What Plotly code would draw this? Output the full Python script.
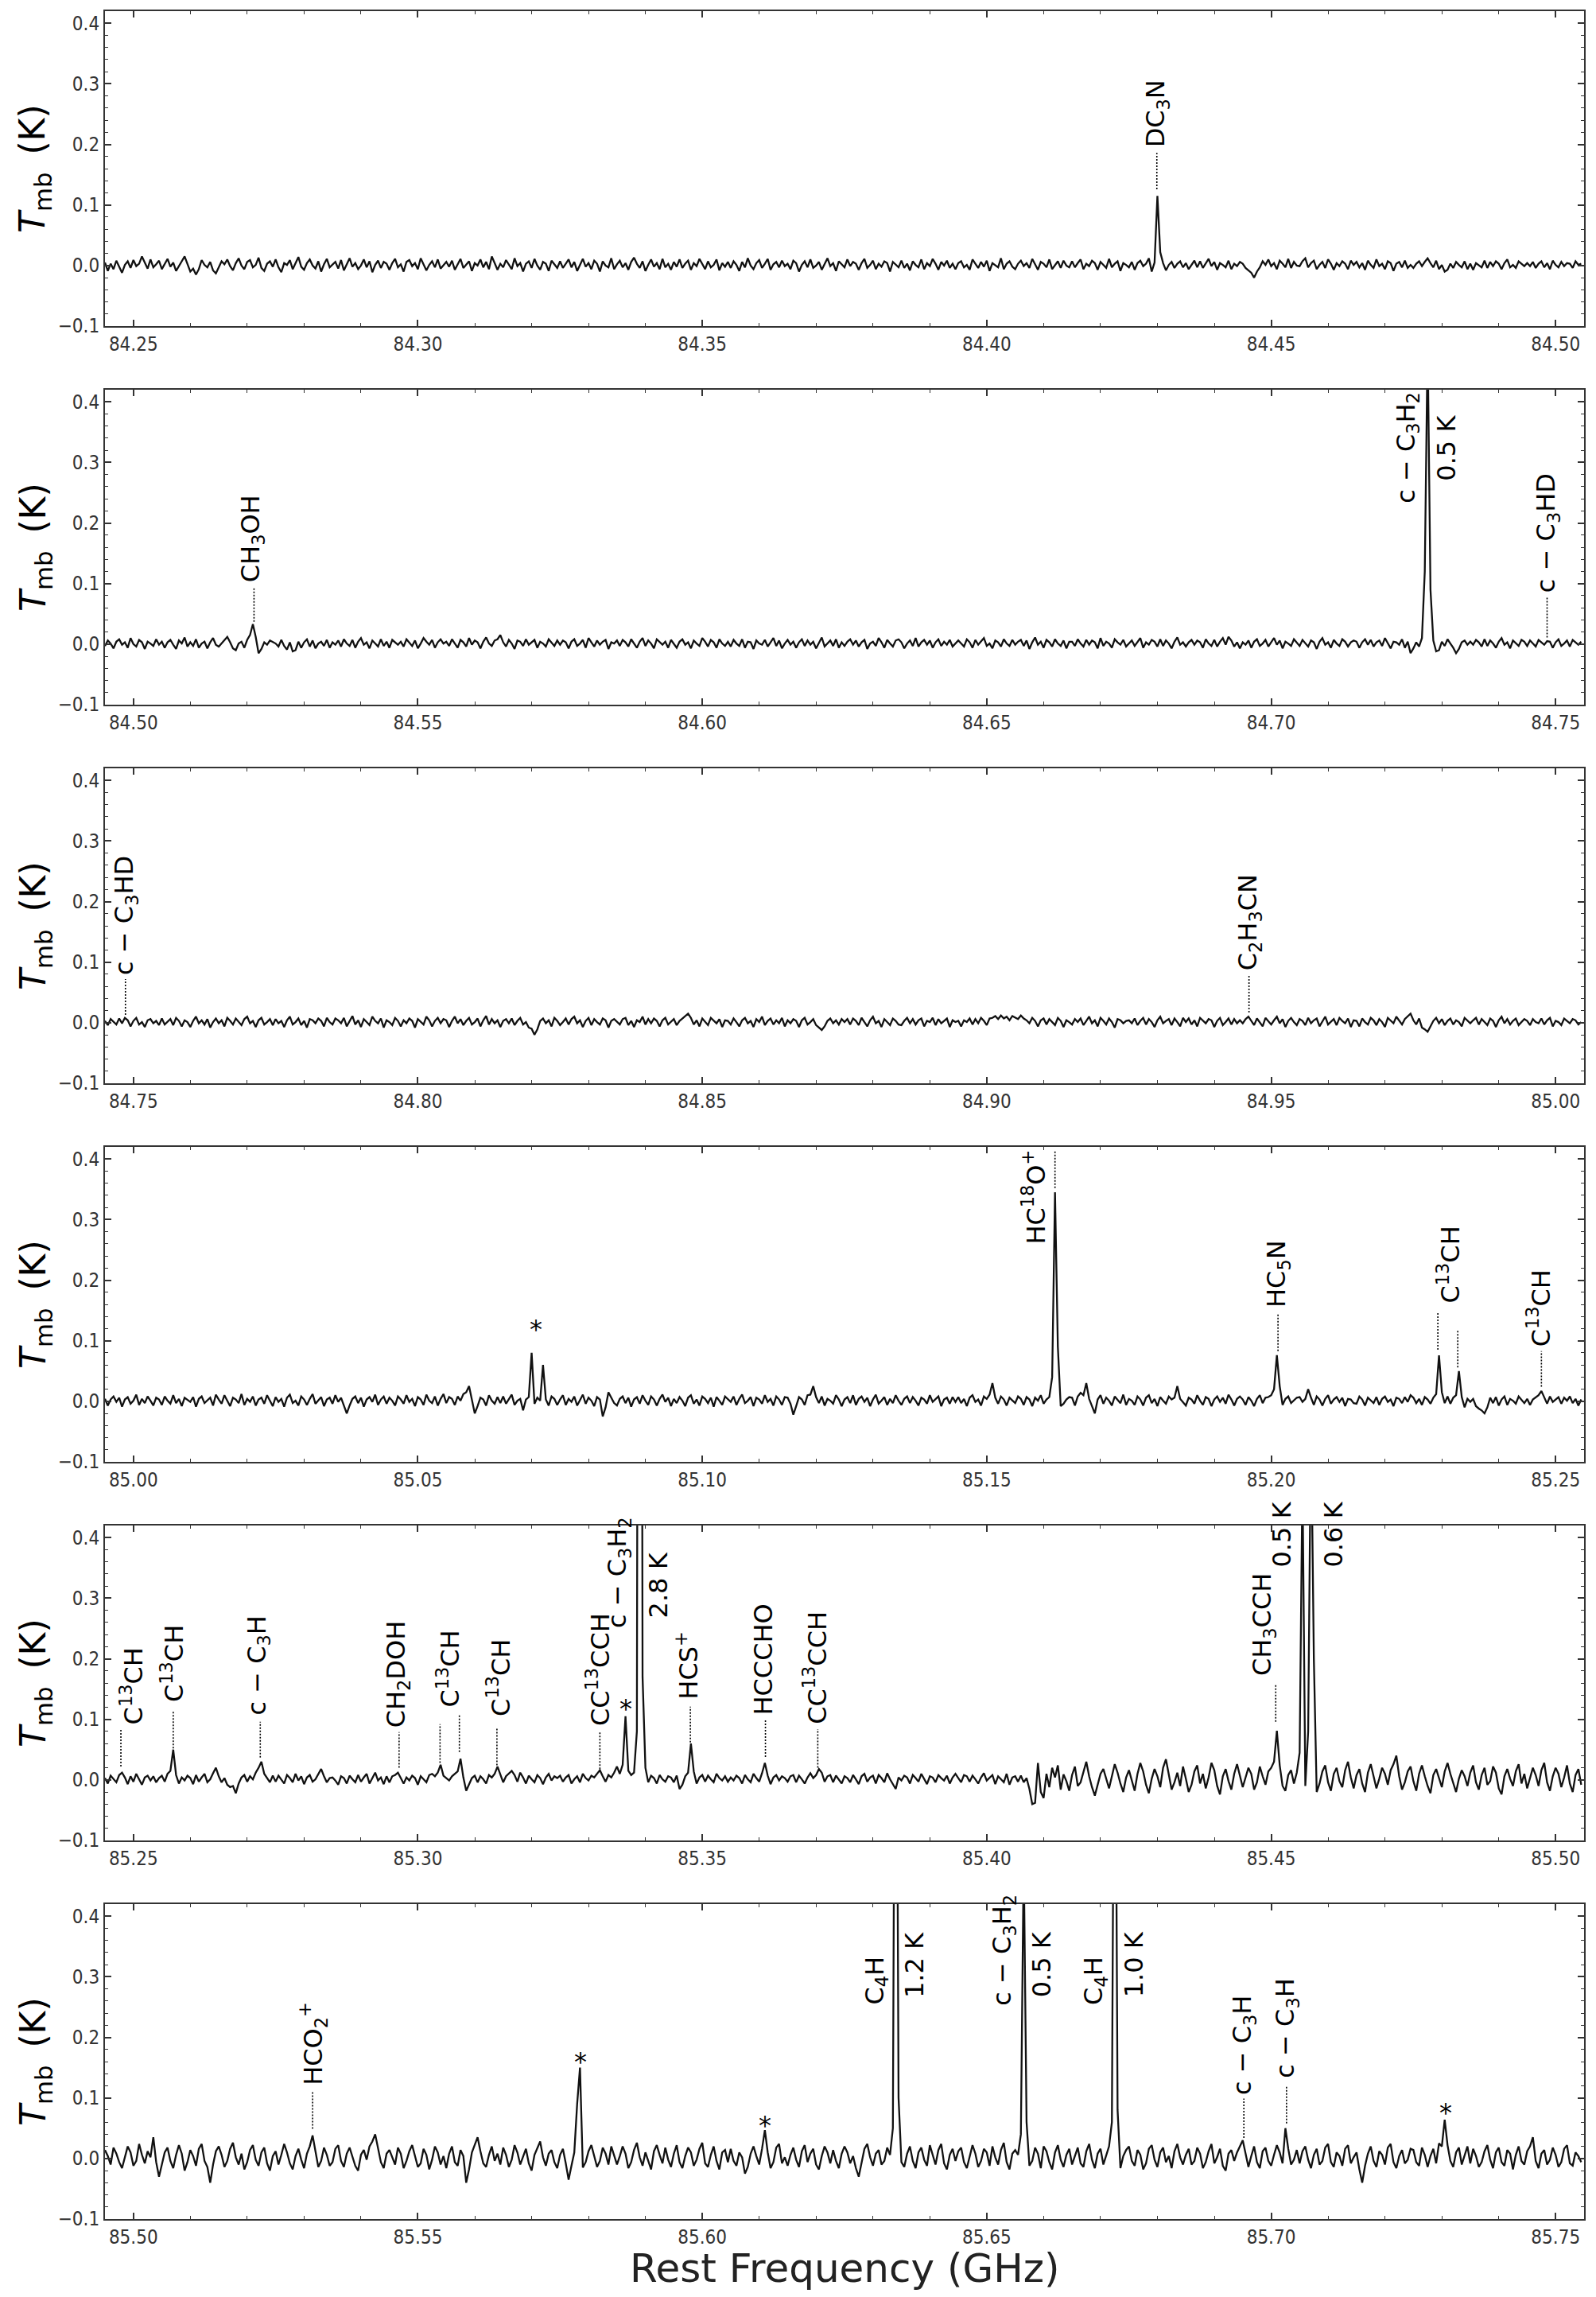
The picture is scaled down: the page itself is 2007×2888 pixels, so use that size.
import plotly.graph_objects as go

# ---------------- data ----------------
PANEL_START_GHZ = [84.245, 84.495, 84.745, 84.995, 85.245, 85.495]
PANEL_END_GHZ = [84.505, 84.755, 85.005, 85.255, 85.505, 85.755]
CHANNEL_GHZ = 0.0005
Y_RANGE_K = [-0.1, 0.42]
X_TICK_STEP = 0.05
Y_TICK_STEP = 0.1

# Tmb in mK, 20 channels (0.01 GHz) per row
tmb_p1_mK = [
    5,-9,3,-6,8,-2,-12,1,7,-4,9,-1,3,15,6,-5,10,-3,2,8,
    -6,3,11,-2,5,-9,0,7,15,3,-10,-5,-15,-6,9,1,-3,6,-8,-13,
    -4,7,2,10,-1,-8,4,12,0,-6,6,9,-3,1,13,-4,-9,3,7,-2,
    10,-3,-11,4,1,9,-6,3,14,-2,-7,4,10,0,-5,7,-10,2,11,-3,
    1,6,-5,9,-8,3,12,-2,4,-6,0,10,-3,7,-11,1,8,-4,6,3,
    -7,4,11,-3,2,-10,6,9,-1,4,-6,12,3,-8,1,7,-3,10,-5,0,
    6,-2,8,-7,3,11,-4,1,7,-9,4,0,10,-3,6,-6,15,4,-7,3,
    -3,9,1,-6,12,-1,4,-10,3,7,-4,11,0,-7,6,3,-9,8,2,-4,
    7,-4,3,10,-3,6,-9,1,11,-2,4,-6,8,3,-10,7,0,-3,12,-6,
    2,8,-3,4,-7,6,13,3,-4,7,-9,1,10,-2,4,-6,11,-3,3,-7,
    6,-2,10,-4,3,8,-7,4,-1,11,3,-6,7,-3,1,10,-8,4,-2,6,
    -4,7,1,-9,6,-3,12,0,-6,4,9,-4,3,11,-7,2,6,-3,8,-1,
    3,-6,8,4,-10,1,7,-3,10,-4,0,6,-7,3,12,-1,4,-9,7,2,
    -3,10,-1,6,3,-7,4,11,-4,1,8,-6,3,-2,7,4,-10,6,1,-3,
    8,-4,3,-8,7,1,-3,10,-6,4,-1,11,3,-7,6,0,8,-4,3,-6,
    4,7,-3,1,-7,10,3,-4,6,-2,8,-9,4,1,-3,12,-6,3,7,-2,
    -6,3,8,-1,4,-4,11,2,-7,6,3,-3,10,-6,1,7,-4,8,0,-3,
    7,-3,4,10,-6,3,-1,8,4,-7,6,1,-4,11,-3,3,7,-9,4,1,
    -3,6,-7,4,8,-1,3,12,-10,5,115,22,4,-8,1,6,-4,3,7,-3,
    4,-6,1,8,-3,7,-4,3,11,-1,6,-7,4,1,-3,8,-6,3,-1,6,
    3,-4,-8,-12,-20,-10,-3,7,1,10,-1,4,-6,8,3,-3,11,-4,6,0,
    -1,7,12,-3,4,8,-6,1,6,-4,10,3,-7,4,-1,7,3,-6,8,1,
    6,-3,4,-7,8,1,-4,10,-1,3,-6,7,4,-9,3,6,-3,8,-4,1,
    -4,3,7,-1,6,12,4,-3,8,-6,1,-10,-7,3,-4,6,1,-3,7,-6,
    3,-7,4,1,-3,8,-4,6,-1,7,3,-6,4,10,-3,1,-4,7,3,-1,
    4,-1,6,-4,3,7,-3,4,-6,8,1,-3,6,-1,4,3,-4,7,1,3,
]

tmb_p2_mK = [
    -3,6,1,-7,4,8,-1,3,-6,10,0,-4,7,3,-8,4,1,-3,8,-1,
    4,-6,3,7,-1,-8,6,1,11,-4,3,-3,8,-6,1,4,-7,3,10,-1,
    -4,1,6,12,3,-7,-10,1,4,-6,7,15,33,12,-15,-8,3,-1,6,4,
    1,-4,7,-3,-9,3,-12,-10,4,-6,3,8,-4,6,-7,1,4,-3,7,-6,
    3,-1,6,-4,8,1,-3,7,-6,4,10,-1,3,-7,6,1,-4,8,-3,4,
    -6,7,3,-1,4,-4,8,3,-3,6,-7,1,10,4,-1,7,-6,3,8,1,
    4,-3,8,1,-6,7,3,-4,10,-1,6,3,-7,4,11,1,-3,6,8,15,
    3,-4,7,1,-8,6,4,-3,8,-1,3,7,-6,4,1,-4,8,3,-3,6,
    -1,6,3,-7,4,8,-3,1,7,-6,10,3,-4,6,-1,4,7,-8,3,1,
    6,-3,7,3,-4,8,1,-6,4,10,-3,6,1,-7,8,3,-1,4,-6,7,
    1,-6,4,8,-1,3,-7,6,1,-3,10,4,-4,7,3,-6,8,1,-3,4,
    -4,7,1,-3,8,-6,4,3,-8,6,1,-1,7,-4,3,10,-3,6,-7,1,
    7,-1,4,-6,3,8,-3,6,-1,4,-7,3,11,-4,1,6,-3,8,-6,3,
    -3,4,8,-1,6,-4,3,7,-8,1,4,-3,10,3,-6,7,1,-4,6,8,
    3,-7,1,6,-3,10,-4,3,7,-1,6,-6,3,8,-3,4,-1,7,-4,1,
    6,1,-4,8,3,-6,7,-1,4,10,-3,1,-7,6,3,-4,8,1,-3,7,
    -1,4,7,-3,6,-8,3,11,-1,4,-6,7,3,-4,8,1,-3,6,-7,4,
    4,-3,8,1,-4,7,-1,6,3,-7,10,-3,4,1,-6,8,3,-1,7,-4,
    1,6,-3,4,10,-6,3,-1,7,4,-4,8,-3,6,1,-7,4,11,-1,3,
    -4,3,7,-1,6,3,-6,8,1,-3,7,-4,4,10,-1,12,6,-4,3,-7,
    3,-1,6,-6,4,8,-3,1,7,-4,3,10,-1,6,-7,4,1,-3,8,3,
    -3,7,1,-4,6,3,-8,4,10,-1,3,-6,7,1,-3,8,4,-4,3,6,
    4,-6,3,8,-1,7,-4,3,6,-3,10,1,-7,4,3,-1,8,-6,4,-15,
    -7,3,-4,10,120,500,90,6,-12,-10,4,-3,8,1,-6,-15,-8,3,6,-1,
    4,-1,7,3,-4,8,-3,6,1,-6,4,10,-1,3,-7,6,1,-3,7,4,
    -3,6,1,-4,7,3,-1,5,4,-6,3,8,-3,1,6,-4,7,3,-1,4,
]

tmb_p3_mK = [
    3,-4,6,1,-3,7,-1,8,4,-6,3,8,-3,1,-7,4,6,-1,3,-4,
    7,-3,1,6,-4,8,3,-6,4,1,-7,3,10,-1,4,-3,6,-8,1,7,
    -1,4,-6,8,3,-3,7,1,-4,6,10,-1,3,-7,4,8,-3,1,6,-4,
    6,-1,3,-7,4,10,-3,1,7,-4,3,-8,6,4,-1,7,3,-6,8,1,
    -3,7,4,-1,8,-6,3,11,-3,4,-7,6,1,-4,10,3,-1,7,-8,4,
    1,-4,8,3,-6,4,-1,7,3,-8,6,1,-3,10,4,-6,3,8,-1,6,
    4,-7,3,10,-1,6,-4,3,8,-3,1,7,-6,4,11,-3,6,-1,4,-7,
    3,6,-1,7,-4,3,8,-3,1,-8,-10,-20,-11,3,7,-1,4,-6,8,3,
    -4,1,7,-3,6,10,-1,4,-7,3,8,-4,6,1,-3,7,4,-8,3,6,
    1,-3,6,8,-4,3,-7,4,1,10,-3,6,-1,7,3,-6,4,8,-3,1,
    6,-4,3,7,11,15,8,-3,4,-6,7,1,-4,8,3,-1,6,-7,4,3,
    -3,7,1,-6,4,8,-1,3,-7,6,1,10,-4,3,7,-3,4,-1,8,-6,
    4,-1,6,3,-7,4,8,-3,1,6,-4,-8,-12,-6,3,7,-1,4,-3,6,
    1,6,-3,7,3,-4,8,1,-6,4,10,-1,3,-7,6,1,-4,7,3,-3,
    -4,3,8,-1,6,-3,4,7,-6,3,1,8,-4,6,-1,3,7,-7,4,1,
    3,-6,4,1,7,-3,6,-1,8,3,-4,7,8,11,6,12,7,10,4,11,
    8,6,12,7,4,-1,8,3,-6,4,7,-3,6,1,-4,8,3,-7,4,1,
    -3,6,1,7,-4,3,10,-1,4,-6,8,3,-3,7,1,-8,6,4,-1,3,
    4,-1,7,-4,3,8,-3,6,1,-7,4,10,-1,3,6,-4,7,1,-6,8,
    1,7,-3,4,-6,8,3,-1,6,4,-7,3,8,-4,1,7,-3,6,-1,4,
    -1,6,10,3,-4,7,1,-6,8,3,-3,4,10,-1,6,-7,3,8,1,-4,
    6,3,-4,8,-1,4,7,-6,3,10,-3,1,6,-4,8,3,-1,7,-7,4,
    3,-6,7,1,-3,8,4,-4,6,1,-7,8,3,-1,10,4,-3,6,11,15,
    4,-3,7,-8,-11,-15,-6,3,8,-1,6,-4,3,7,-3,4,1,-6,8,3,
    -1,4,8,-3,6,1,-4,7,3,-7,4,10,-1,6,-3,3,7,-4,1,6,
    3,-4,6,1,-1,7,-3,4,8,-6,3,1,-4,7,3,-1,6,4,-3,1,
]

tmb_p4_mK = [
    4,-7,3,8,-1,6,-9,3,7,-4,1,11,-6,4,-3,8,1,-7,6,3,
    -6,8,1,-4,10,-3,4,-8,6,3,-1,7,-9,4,8,-3,1,6,-7,11,
    3,-4,10,1,-8,6,3,-3,12,-6,4,-1,8,-7,3,6,-4,10,1,-8,
    7,-1,4,-9,6,11,-3,1,-7,8,3,-6,4,12,-4,1,7,-8,3,6,
    -4,10,-1,6,-8,-20,-7,4,8,-3,6,-9,3,7,-1,11,-6,3,8,-4,
    6,1,-7,8,3,-4,10,-1,4,-8,7,3,-6,11,1,-3,8,-7,4,12,
    -3,7,4,-6,8,1,12,15,25,4,-20,-8,6,3,-7,10,1,-4,7,-3,
    8,-4,3,11,-6,1,4,-15,3,7,80,-4,6,1,60,3,-7,8,4,-6,
    3,10,-6,4,-1,8,-7,3,11,-4,6,1,-8,7,3,-25,-10,15,6,-3,
    -7,4,8,-3,6,-9,3,7,-4,10,1,-6,8,3,-7,4,11,-1,6,-8,
    4,-3,7,1,-8,6,10,-4,3,-7,8,4,-3,6,-9,7,1,-6,8,3,
    -1,8,-6,4,11,-3,1,7,-8,6,3,-4,10,-1,4,-7,8,3,-6,7,
    6,-4,-22,-8,7,3,-6,10,11,25,7,-3,8,-7,4,1,-4,10,3,-8,
    3,7,-3,10,-6,4,8,-1,6,-8,3,11,-4,1,7,-6,4,-3,10,1,
    -6,4,8,-3,7,1,-7,6,3,-4,10,-1,4,8,-8,3,6,-4,7,-1,
    7,-3,4,-8,6,10,-1,3,-7,8,4,11,30,6,-4,8,3,-7,6,1,
    -3,8,4,-6,7,3,-8,6,1,10,-4,3,7,40,345,90,-8,-4,3,7,
    6,-7,8,14,10,30,4,-8,-20,3,10,-4,6,1,-7,8,3,-3,11,-6,
    4,1,-6,8,3,-7,6,10,-3,4,-8,7,1,-4,8,3,6,25,4,-1,
    -7,6,3,-4,10,1,-6,7,4,-8,3,8,-1,6,-4,11,3,-7,4,8,
    3,-6,7,1,-8,4,10,-3,6,7,10,20,76,25,-6,4,8,-3,1,6,
    7,-1,4,20,6,-6,8,3,-7,4,10,-4,3,7,-1,6,-8,4,3,-3,
    -4,8,3,-7,6,1,-3,7,-6,4,8,-1,3,-8,6,4,-3,7,-1,10,
    6,-3,4,-6,7,3,-4,6,12,76,15,-3,8,-4,6,10,50,7,-10,4,
    -1,4,-8,-12,-15,-20,-10,6,-3,7,-7,3,8,-6,4,1,-4,8,3,-3,
    4,-6,3,7,10,17,6,-4,8,-1,3,7,-4,6,1,8,-3,4,-7,3,
]

tmb_p5_mK = [
    3,-6,7,1,-4,8,12,4,-7,6,-3,10,1,-8,4,7,-1,6,-4,3,
    7,-3,10,15,50,8,-6,4,-1,7,3,-7,8,-3,4,10,-4,1,11,20,
    6,-4,3,-8,-12,-10,-22,-6,4,8,-3,6,1,12,20,30,10,3,-4,7,
    -3,7,1,-6,8,3,-4,10,-1,6,-7,4,8,-3,1,10,18,6,-4,3,
    4,-1,-8,6,3,-6,7,1,-4,8,-3,4,10,-6,3,12,-1,4,-7,6,
    -4,6,8,12,3,-6,4,-1,7,3,-8,6,1,-4,8,10,6,12,25,7,
    3,-1,6,10,14,35,4,-18,-8,3,7,-4,6,1,-6,8,4,10,22,8,
    -4,6,11,15,8,-3,12,4,-6,7,1,-4,8,3,-7,4,10,-1,6,3,
    7,-3,4,8,-6,1,6,-4,10,3,-1,7,4,10,16,6,-3,8,4,12,
    22,10,25,105,15,8,12,80,2800,170,20,-4,7,3,-6,8,1,-3,6,4,
    -4,7,-15,-8,6,12,60,14,-6,4,8,-3,7,1,-4,10,3,-1,6,-3,
    4,-1,7,3,-6,8,1,-4,10,3,-3,11,28,7,-7,4,8,-1,6,3,
    -3,6,8,-4,7,1,-6,4,11,3,8,18,12,-3,6,8,-4,7,1,-6,
    6,3,-4,8,1,-7,6,10,-3,4,7,-6,8,3,-4,11,1,-8,-15,4,
    -1,7,4,-6,8,3,-3,10,1,-7,6,4,-4,8,3,-1,7,-6,4,10,
    3,-4,8,6,-3,7,1,-6,4,11,-1,3,8,-7,6,1,-4,10,-8,4,
    6,-3,7,-4,3,-15,-40,-38,28,-20,-30,10,-12,20,4,24,-16,9,-2,-18,
    8,22,-10,-4,14,30,6,-12,-26,-8,10,18,2,-14,6,26,12,-6,-20,4,
    16,-2,-18,10,28,14,-8,-22,2,18,6,-12,20,34,8,-16,-4,12,-10,22,
    2,-20,-8,14,24,-6,10,-14,4,28,16,-10,-24,6,18,-2,-16,10,26,8,
    -12,4,20,10,-16,-4,22,6,-8,14,20,30,81,24,-10,-18,8,16,-6,12,
    45,500,-10,80,600,200,-20,-6,14,24,-4,-18,10,20,-2,-12,16,30,4,-14,
    8,18,-6,-20,12,26,4,-14,2,20,10,-8,16,26,40,6,-16,-4,14,22,
    -2,-18,10,24,6,-10,-22,8,18,4,-12,14,28,10,-6,-20,2,16,6,-10,
    12,24,-4,-16,8,20,-8,-2,22,12,-14,-24,6,18,2,-10,14,26,-6,10,
    -14,4,20,8,-10,16,28,-4,-18,6,20,10,-12,4,24,-6,-20,8,18,-8,
]

tmb_p6_mK = [
    14,4,-10,18,8,-6,-16,2,20,10,-12,-4,24,6,-8,12,2,35,-6,-30,
    -8,10,18,-4,-16,6,22,8,-20,-6,14,4,-12,16,24,-4,-14,-40,-10,12,
    20,6,-14,-4,16,26,2,-10,8,-18,-6,14,22,-2,-12,10,18,-8,-20,4,
    12,-10,6,24,10,-8,-18,4,16,-2,-16,8,20,38,12,-14,-4,18,6,-12,
    -6,16,22,-4,-14,8,18,2,-12,-20,6,14,-2,20,28,40,16,-6,-16,8,
    14,2,-10,18,8,-16,-4,12,22,4,-14,-8,16,6,-18,-2,20,10,-10,4,
    -16,8,20,-6,-12,14,4,-40,-18,10,24,35,12,-8,-14,6,20,-4,8,-10,
    18,6,-14,-2,22,10,-10,4,16,-8,-20,6,18,28,2,-12,8,14,-6,-16,
    6,16,-8,-35,-12,10,90,150,-15,-6,12,22,4,-14,-4,18,8,-10,20,4,
    -10,4,20,8,-16,-6,14,26,2,-12,10,-4,-18,12,22,6,-8,18,-2,-14,
    8,22,-6,-16,4,18,10,-12,-2,16,26,-8,-14,6,20,-4,-18,10,14,-6,
    16,-4,-12,10,2,-25,-14,8,20,4,-10,16,47,10,-16,-6,18,24,-8,2,
    -12,6,18,-2,-14,12,22,-6,8,16,-10,-18,4,20,10,-8,14,-4,-16,8,
    20,10,-8,4,-16,-30,-6,16,24,2,-12,8,14,-10,-4,18,6,50,1200,100,
    -6,-14,8,20,-4,-16,10,18,-2,-12,22,6,-10,14,24,-8,-18,6,16,-4,
    12,18,-6,-16,4,22,8,-14,-4,16,10,-12,20,2,-10,14,26,-6,-18,8,
    14,6,40,500,60,-12,-4,18,8,-16,20,12,-6,-18,10,22,-2,-14,6,16,
    -10,4,18,-8,-14,12,24,-2,-16,8,16,-10,6,20,60,1000,80,-16,4,14,
    20,-4,-12,14,6,-18,-8,16,22,-2,-14,10,18,-6,4,-16,12,24,2,-10,
    6,16,-10,-4,18,8,-16,-6,12,24,-8,2,16,-12,-20,8,14,-4,10,20,
    30,8,-14,4,20,-6,-16,12,18,-4,-12,6,22,10,-8,50,16,-10,-2,14,
    -8,12,20,-2,-16,6,16,-10,-4,18,24,-6,-14,10,4,-12,16,22,-8,2,
    10,-18,-40,-12,8,20,-4,-14,12,6,-10,18,24,-6,-16,4,14,-8,-2,16,
    14,-6,-12,18,6,-14,4,16,-8,25,20,64,22,-4,-14,10,18,-10,6,20,
    -8,16,4,-14,-6,12,22,-2,-16,10,18,-6,-12,14,8,-18,6,20,-4,-10,
    12,20,35,-4,-16,8,14,-10,-2,18,6,-14,-6,16,22,-8,-12,10,4,-6,
]

# line identifications: (frequency GHz, dotted-line start K, dotted-line end K)
dots_p1 = [(84.4299, 0.126, 0.186)]
dots_p2 = [(84.5212, 0.037, 0.094), (84.7485, 0.011, 0.077)]
dots_p3 = [(84.7486, 0.013, 0.072), (84.9461, 0.017, 0.080)]
dots_p4 = [(85.1620, 0.352, 0.413), (85.2012, 0.083, 0.146), (85.2293, 0.085, 0.146),
           (85.2328, 0.056, 0.118), (85.2475, 0.024, 0.083)]
dots_p5 = [(85.2478, 0.022, 0.085), (85.2570, 0.052, 0.113), (85.2723, 0.037, 0.096),
           (85.2967, 0.020, 0.079), (85.3039, 0.028, 0.092), (85.3073, 0.046, 0.107),
           (85.3139, 0.024, 0.085), (85.3320, 0.018, 0.080), (85.3479, 0.062, 0.121),
           (85.3611, 0.038, 0.099), (85.3703, 0.020, 0.084), (85.4508, 0.096, 0.157)]
dots_p6 = [(85.5315, 0.049, 0.110), (85.6952, 0.034, 0.099), (85.7027, 0.058, 0.121)]

# labels sitting above the dotted lines: (text, frequency GHz, bottom of text K)
labels_p1 = [("DC<sub>3</sub>N", 84.4299, 0.194)]
labels_p2 = [("CH<sub>3</sub>OH", 84.5208, 0.100), ("c − C<sub>3</sub>HD", 84.7485, 0.083)]
labels_p3 = [("c − C<sub>3</sub>HD", 84.7487, 0.078), ("C<sub>2</sub>H<sub>3</sub>CN", 84.9461, 0.085)]
labels_p4 = [("HC<sub>5</sub>N", 85.2012, 0.153), ("C<sup>13</sup>CH", 85.2311, 0.160),
             ("C<sup>13</sup>CH", 85.2470, 0.089)]
labels_p5 = [("C<sup>13</sup>CH", 85.2497, 0.090), ("C<sup>13</sup>CH", 85.2568, 0.127),
             ("c − C<sub>3</sub>H", 85.2720, 0.105), ("CH<sub>2</sub>DOH", 85.2964, 0.085),
             ("C<sup>13</sup>CH", 85.3054, 0.118), ("C<sup>13</sup>CH", 85.3142, 0.103),
             ("CC<sup>13</sup>CCH", 85.3317, 0.088), ("HCS<sup>+</sup>", 85.3473, 0.132),
             ("HCCCHO", 85.3608, 0.106), ("CC<sup>13</sup>CCH", 85.3699, 0.090),
             ("CH<sub>3</sub>CCH", 85.4487, 0.170)]
labels_p6 = [("HCO<sub>2</sub><sup>+</sup>", 85.5315, 0.119), ("c − C<sub>3</sub>H", 85.6952, 0.103),
             ("c − C<sub>3</sub>H", 85.7027, 0.132)]

# labels beside strong lines: (text, frequency GHz, centre K, side of text edge)
side_p1 = []
side_p2 = [("c − C<sub>3</sub>H<sub>2</sub>", 84.7270, 0.324, "right"), ("0.5 K", 84.7281, 0.324, "left")]
side_p3 = []
side_p4 = [("HC<sup>18</sup>O<sup>+</sup>", 85.1614, 0.337, "right")]
side_p5 = [("c − C<sub>3</sub>H<sub>2</sub>", 85.3383, 0.343, "right"), ("2.8 K", 85.3395, 0.321, "left"),
           ("0.5 K", 85.4547, 0.405, "right"), ("0.6 K", 85.4582, 0.405, "left")]
side_p6 = [("C<sub>4</sub>H", 85.6336, 0.294, "right"), ("1.2 K", 85.6345, 0.320, "left"),
           ("c − C<sub>3</sub>H<sub>2</sub>", 85.6560, 0.344, "right"), ("0.5 K", 85.6569, 0.320, "left"),
           ("C<sub>4</sub>H", 85.6721, 0.294, "right"), ("1.0 K", 85.6731, 0.320, "left")]

# unidentified lines marked with an asterisk: (frequency GHz, K)
stars_p1 = []
stars_p2 = []
stars_p3 = []
stars_p4 = [(85.0707, 0.130)]
stars_p5 = [(85.3366, 0.128)]
stars_p6 = [(85.5786, 0.170), (85.6110, 0.065), (85.7307, 0.086)]

Y_TITLE = "<i>T</i><sub>mb</sub>\u2002(K)"
X_TITLE = "Rest Frequency (GHz)"

# ---------------- figure ----------------
spectra = [tmb_p1_mK, tmb_p2_mK, tmb_p3_mK, tmb_p4_mK, tmb_p5_mK, tmb_p6_mK]
dots = [dots_p1, dots_p2, dots_p3, dots_p4, dots_p5, dots_p6]
labels = [labels_p1, labels_p2, labels_p3, labels_p4, labels_p5, labels_p6]
sides = [side_p1, side_p2, side_p3, side_p4, side_p5, side_p6]
stars = [stars_p1, stars_p2, stars_p3, stars_p4, stars_p5, stars_p6]

W, H = 2007, 2888
ML, MR, MT, MB = 132, 15, 14, 98
PLOT_H = H - MT - MB
PLOT_W = W - ML - MR
PANEL_H, PANEL_STEP = 396, 476

FRAME = "#333333"
LABEL_FONT = dict(family="DejaVu Sans", size=32, color="black")
TICK_FONT = dict(family="DejaVu Sans Condensed, DejaVu Sans, sans-serif", size=24, color=FRAME)

fig = go.Figure()
layout = dict(
    width=W, height=H,
    margin=dict(l=ML, r=MR, t=MT, b=MB, pad=0),
    paper_bgcolor="white", plot_bgcolor="white",
    showlegend=False,
)
annotations = []

for k in range(6):
    sfx = "" if k == 0 else str(k + 1)
    xa, ya = "x" + sfx, "y" + sfx
    vals = spectra[k]
    xs = [PANEL_START_GHZ[k] + CHANNEL_GHZ * i for i in range(len(vals))]
    ys = [v / 1000.0 for v in vals]
    fig.add_trace(go.Scatter(x=xs, y=ys, mode="lines",
                             line=dict(color="#111111", width=2.3),
                             xaxis=xa, yaxis=ya, hoverinfo="skip", showlegend=False))
    dx, dy = [], []
    for f, lo, hi in dots[k]:
        dx += [f, f, None]
        dy += [lo, hi, None]
    if dx:
        fig.add_trace(go.Scatter(x=dx, y=dy, mode="lines",
                                 line=dict(color="black", width=1.6, dash="2px,2px"),
                                 xaxis=xa, yaxis=ya, hoverinfo="skip", showlegend=False))

    top = PANEL_STEP * k
    d1 = 1 - top / PLOT_H
    d0 = 1 - (top + PANEL_H) / PLOT_H

    common = dict(showline=True, linecolor=FRAME, linewidth=2, mirror="allticks",
                  ticks="inside", ticklen=8, tickwidth=1.5, tickcolor=FRAME,
                  showgrid=False, zeroline=False, tickfont=TICK_FONT, fixedrange=True)
    layout["xaxis" + sfx] = dict(common, domain=[0, 1], anchor=ya,
                                 range=[PANEL_START_GHZ[k], PANEL_END_GHZ[k]],
                                 tick0=0, dtick=X_TICK_STEP, tickformat=".2f",
                                 minor=dict(ticks="inside", ticklen=4, tickwidth=1.2,
                                            tickcolor=FRAME, dtick=0.01, showgrid=False))
    layout["yaxis" + sfx] = dict(common, domain=[d0, d1], anchor=xa,
                                 range=Y_RANGE_K, tick0=0, dtick=Y_TICK_STEP, tickformat=".1f",
                                 minor=dict(ticks="inside", ticklen=4, tickwidth=1.2,
                                            tickcolor=FRAME, dtick=0.02, showgrid=False))

    for text, f, yb in labels[k]:
        annotations.append(dict(text=text, x=f, y=yb, xref=xa, yref=ya, textangle=-90,
                                xanchor="center", yanchor="bottom", showarrow=False,
                                font=LABEL_FONT, borderpad=0))
    for text, f, yc, side in sides[k]:
        annotations.append(dict(text=text, x=f, y=yc, xref=xa, yref=ya, textangle=-90,
                                xanchor=side, yanchor="middle", showarrow=False,
                                font=LABEL_FONT, borderpad=0))
    for f, yc in stars[k]:
        annotations.append(dict(text="*", x=f, y=yc, xref=xa, yref=ya, yshift=-8,
                                xanchor="center", yanchor="middle", showarrow=False,
                                font=LABEL_FONT, borderpad=0))
    annotations.append(dict(text=Y_TITLE, x=(44 - ML) / PLOT_W, y=(d0 + d1) / 2,
                            xref="paper", yref="paper", textangle=-90,
                            xanchor="center", yanchor="middle", showarrow=False,
                            font=dict(family="DejaVu Sans", size=44, color="black")))

annotations.append(dict(text=X_TITLE, x=(1062 - ML) / PLOT_W, y=-(2852 - (H - MB)) / PLOT_H,
                        xref="paper", yref="paper", xanchor="center", yanchor="middle",
                        showarrow=False, font=dict(family="DejaVu Sans", size=50, color="#222222")))

layout["annotations"] = annotations
fig.update_layout(**layout)
fig.write_html("out.html")
